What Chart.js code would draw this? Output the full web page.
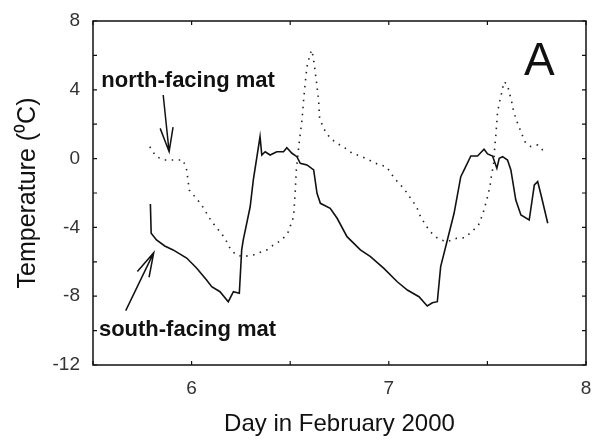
<!DOCTYPE html>
<html lang="en">
<head>
  <meta charset="UTF-8" />
  <title>Mat temperature - February 2000</title>
  <script src="https://cdn.jsdelivr.net/npm/chart.js"></script>
  <style>
    * { margin: 0; padding: 0; box-sizing: border-box; }
    body { background: #fff; width: 594px; height: 444px; overflow: hidden; }
    canvas { display: block; }
  </style>
</head>
<body>
  <canvas id="tempChart" width="594" height="444"></canvas>

  <script>
    // south-facing mat (solid line)
    const southDays = [5.791, 5.795, 5.822, 5.864, 5.906, 5.975, 6.025, 6.076, 6.102, 6.144, 6.186, 6.212, 6.242, 6.254, 6.262, 6.297, 6.313, 6.347, 6.356, 6.373, 6.398, 6.432, 6.466, 6.483, 6.509, 6.534, 6.551, 6.585, 6.619, 6.636, 6.653, 6.703, 6.738, 6.788, 6.856, 6.907, 6.975, 7.043, 7.094, 7.153, 7.195, 7.221, 7.246, 7.263, 7.297, 7.331, 7.365, 7.382, 7.416, 7.450, 7.483, 7.501, 7.526, 7.548, 7.560, 7.577, 7.602, 7.619, 7.644, 7.670, 7.712, 7.738, 7.755, 7.772, 7.806];
    const southTemps = [-2.64, -4.34, -4.73, -5.08, -5.31, -5.78, -6.36, -7.06, -7.45, -7.74, -8.32, -7.74, -7.83, -5.31, -4.73, -2.80, -1.24, 1.27, 0.21, 0.40, 0.21, 0.40, 0.40, 0.63, 0.31, 0.11, -0.27, -0.37, -0.66, -2.02, -2.60, -2.89, -3.47, -4.54, -5.31, -5.70, -6.38, -7.16, -7.64, -8.03, -8.57, -8.38, -8.32, -6.28, -4.73, -3.18, -1.05, -0.66, 0.15, 0.15, 0.54, 0.27, 0.15, -0.56, 0.02, 0.11, -0.08, -0.66, -2.41, -3.28, -3.57, -1.53, -1.34, -2.12, -3.76];

    // north-facing mat (dotted line)
    const northDays = [5.788, 5.818, 5.856, 5.906, 5.957, 5.975, 5.988, 6.017, 6.051, 6.102, 6.144, 6.169, 6.195, 6.225, 6.262, 6.313, 6.381, 6.415, 6.458, 6.491, 6.517, 6.525, 6.531, 6.547, 6.560, 6.568, 6.576, 6.585, 6.602, 6.610, 6.619, 6.632, 6.644, 6.649, 6.669, 6.703, 6.738, 6.780, 6.814, 6.856, 6.907, 6.941, 6.988, 7.017, 7.043, 7.076, 7.107, 7.141, 7.161, 7.192, 7.221, 7.254, 7.297, 7.344, 7.385, 7.421, 7.455, 7.475, 7.488, 7.504, 7.514, 7.521, 7.531, 7.538, 7.543, 7.551, 7.560, 7.568, 7.577, 7.585, 7.602, 7.610, 7.623, 7.633, 7.650, 7.670, 7.690, 7.721, 7.755, 7.788];
    const northTemps = [0.69, 0.15, -0.08, -0.08, -0.08, -0.66, -1.83, -2.22, -2.70, -3.67, -4.25, -4.63, -5.22, -5.60, -5.70, -5.60, -5.31, -5.02, -4.73, -4.25, -3.38, -2.02, -0.66, 1.08, 2.24, 3.41, 4.38, 5.34, 6.12, 6.31, 5.73, 4.57, 3.41, 2.36, 1.76, 1.18, 0.89, 0.60, 0.31, 0.15, -0.12, -0.31, -0.47, -0.95, -1.34, -1.73, -2.25, -2.80, -3.38, -3.96, -4.38, -4.69, -4.83, -4.63, -4.60, -4.25, -3.86, -3.28, -2.76, -2.08, -1.53, -0.95, -0.37, 0.79, 1.37, 2.63, 3.22, 3.60, 4.09, 4.47, 4.28, 3.89, 3.31, 2.73, 2.15, 1.56, 0.98, 0.69, 0.79, 0.40];

    // labelled ticks
    const xTickLabels = [6, 7, 8];
    const yTickLabels = [8, 4, 0, -4, -8, -12];

    const FONT = "'Liberation Sans', Arial, sans-serif";

    // text labels and arrows, placed in data units
    const notes = [
      { text: 'north-facing mat', x: 5.542, y: 4.15, font: 'bold 22px ' + FONT },
      { text: 'south-facing mat', x: 5.530, y: -10.31, font: 'bold 22px ' + FONT },
      { text: 'A', x: 7.685, y: 4.86, font: '46px ' + FONT }
    ];
    const arrows = [
      { from: [5.856, 3.70], to: [5.886, 0.40] },
      { from: [5.666, -8.84], to: [5.808, -5.47] }
    ];

    const toPoints = (xs, ys) => xs.map((x, i) => ({ x: x, y: ys[i] }));

    // box frame with inward tick marks (matlab style)
    const framePlugin = {
      id: 'frame',
      afterDatasetsDraw(chart) {
        const { ctx, chartArea: a, scales } = chart;
        ctx.save();
        ctx.strokeStyle = '#111';
        ctx.lineWidth = 1.5;
        ctx.strokeRect(a.left, a.top, a.right - a.left, a.bottom - a.top);
        ctx.lineWidth = 1.2;
        ctx.beginPath();
        scales.x.ticks.forEach(t => {
          const px = scales.x.getPixelForValue(t.value);
          ctx.moveTo(px, a.bottom); ctx.lineTo(px, a.bottom - 4);
          ctx.moveTo(px, a.top); ctx.lineTo(px, a.top + 4);
        });
        scales.y.ticks.forEach(t => {
          const py = scales.y.getPixelForValue(t.value);
          ctx.moveTo(a.left, py); ctx.lineTo(a.left + 4, py);
          ctx.moveTo(a.right, py); ctx.lineTo(a.right - 4, py);
        });
        ctx.stroke();
        ctx.restore();
      }
    };

    const notesPlugin = {
      id: 'notes',
      afterDatasetsDraw(chart) {
        const { ctx, scales } = chart;
        const px = v => scales.x.getPixelForValue(v);
        const py = v => scales.y.getPixelForValue(v);
        ctx.save();
        ctx.fillStyle = '#111';
        ctx.textAlign = 'left';
        ctx.textBaseline = 'alphabetic';
        notes.forEach(n => {
          ctx.font = n.font;
          ctx.fillText(n.text, px(n.x), py(n.y));
        });

        ctx.strokeStyle = '#111';
        ctx.lineWidth = 1.5;
        arrows.forEach(ar => {
          const x0 = px(ar.from[0]), y0 = py(ar.from[1]);
          const x1 = px(ar.to[0]), y1 = py(ar.to[1]);
          const ang = Math.atan2(y0 - y1, x0 - x1);
          const head = 25, spread = 15 * Math.PI / 180;
          ctx.beginPath();
          ctx.moveTo(x0, y0);
          ctx.lineTo(x1, y1);
          ctx.moveTo(x1 + head * Math.cos(ang - spread), y1 + head * Math.sin(ang - spread));
          ctx.lineTo(x1, y1);
          ctx.lineTo(x1 + head * Math.cos(ang + spread), y1 + head * Math.sin(ang + spread));
          ctx.stroke();
        });
        ctx.restore();
      }
    };

    const ctx = document.getElementById('tempChart').getContext('2d');
    const tempChart = new Chart(ctx, {
      type: 'line',
      data: {
        datasets: [
          {
            label: 'south-facing mat',
            data: toPoints(southDays, southTemps),
            borderColor: '#111',
            borderWidth: 1.6,
            pointRadius: 0,
            tension: 0,
            fill: false
          },
          {
            label: 'north-facing mat',
            data: toPoints(northDays, northTemps),
            borderColor: '#222',
            borderWidth: 1.6,
            borderDash: [1.5, 5.5],
            pointRadius: 0,
            tension: 0,
            fill: false
          }
        ]
      },
      options: {
        responsive: false,
        animation: false,
        devicePixelRatio: 1,
        layout: { padding: { top: 21, right: 8, left: 0, bottom: 0 } },
        plugins: {
          legend: { display: false },
          tooltip: { enabled: false }
        },
        scales: {
          x: {
            type: 'linear',
            min: 5.5,
            max: 8,
            border: { display: false },
            grid: { drawOnChartArea: false, drawTicks: false },
            ticks: {
              stepSize: 0.5,
              autoSkip: false,
              maxRotation: 0,
              padding: 12,
              color: '#333',
              font: { family: FONT, size: 19 },
              callback: v => xTickLabels.includes(v) ? String(v) : ''
            },
            title: {
              display: true,
              text: 'Day in February 2000',
              color: '#111',
              font: { family: FONT, size: 24 },
              padding: { top: 0, bottom: 5 }
            },
            afterFit: scale => {
              scale.height = 79;
              scale.paddingLeft = 0;
              scale.paddingRight = 0;
            }
          },
          y: {
            min: -12,
            max: 8,
            border: { display: false },
            grid: { drawOnChartArea: false, drawTicks: false },
            ticks: {
              stepSize: 2,
              autoSkip: false,
              padding: 13,
              color: '#333',
              font: { family: FONT, size: 19 },
              callback: v => yTickLabels.includes(v) ? String(v) : ''
            },
            title: {
              display: true,
              text: 'Temperature (\u2070C)',
              color: '#111',
              font: { family: FONT, size: 25 },
              padding: { top: 13, bottom: 0 }
            },
            afterFit: scale => {
              scale.width = 93;
              scale.paddingTop = 0;
              scale.paddingBottom = 0;
            }
          }
        }
      },
      plugins: [framePlugin, notesPlugin]
    });
  </script>
</body>
</html>
